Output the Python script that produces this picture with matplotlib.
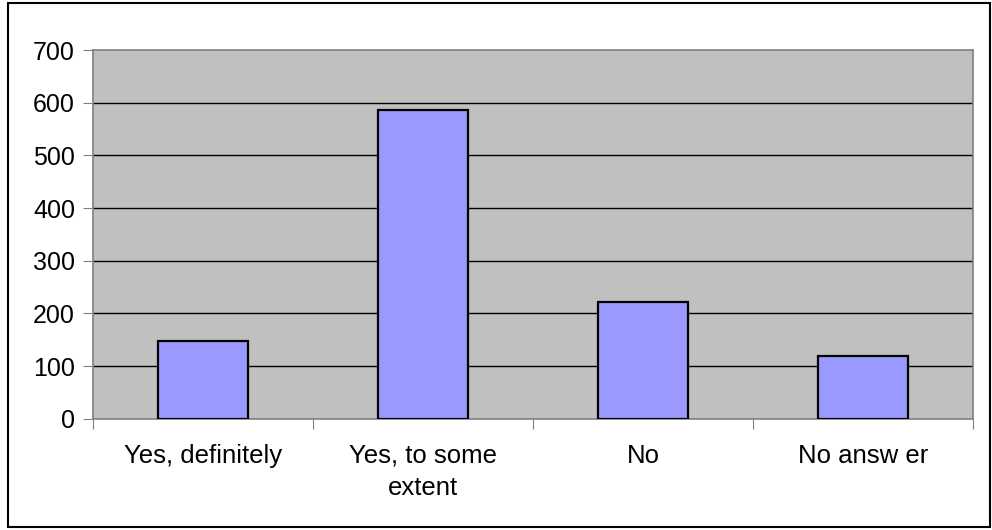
import matplotlib
matplotlib.use("Agg")
from matplotlib import pyplot as plt
import matplotlib.patches as patches
import numpy as np

categories = ["Yes, definitely", "Yes, to some\nextent", "No", "No answ er"]
values = [148, 586, 221, 119]
yticks = [0, 100, 200, 300, 400, 500, 600, 700]

plt.rcParams['font.family'] = ['Liberation Sans', 'DejaVu Sans']

fig = plt.figure(figsize=(9.92, 5.30), dpi=100)
ax = fig.add_axes([93/992, 1 - 418.7/530, 880/992, 368.7/530])
ax.set_facecolor('#C0C0C0')

x = np.arange(len(categories))
ax.bar(x, values, width=0.41, color='#9999FF', edgecolor='black', linewidth=1.6, zorder=3)

ax.set_xlim(-0.5, len(categories) - 0.5)
ax.set_ylim(0, 700)
ax.set_yticks(yticks)
ax.set_yticklabels([str(v) for v in yticks], fontsize=18)
for v in yticks[1:-1]:
    ax.axhline(v, color='black', linewidth=1.0, zorder=1)

# category labels between ticks at boundaries
ax.set_xticks(np.arange(len(categories) + 1) - 0.5)
ax.set_xticklabels([])
ax.set_xticks(x, minor=True)
ax.set_xticklabels(categories, minor=True, fontsize=18.5, linespacing=1.45, va='top')
ax.tick_params(axis='x', which='minor', length=0, pad=18)
ax.tick_params(axis='x', which='major', length=7, direction='out', color='#808080')
ax.tick_params(axis='y', length=7, direction='out', color='#808080', pad=6)

for s in ['left', 'bottom', 'top', 'right']:
    ax.spines[s].set_color('#808080')
    ax.spines[s].set_linewidth(1.2)

# outer chart frame
fig.patches.append(patches.Rectangle((8/992, 3/530), 982/992, 524/530, transform=fig.transFigure,
                                     fill=False, edgecolor='black', linewidth=1.5))

fig.savefig("out.png", dpi=100)
